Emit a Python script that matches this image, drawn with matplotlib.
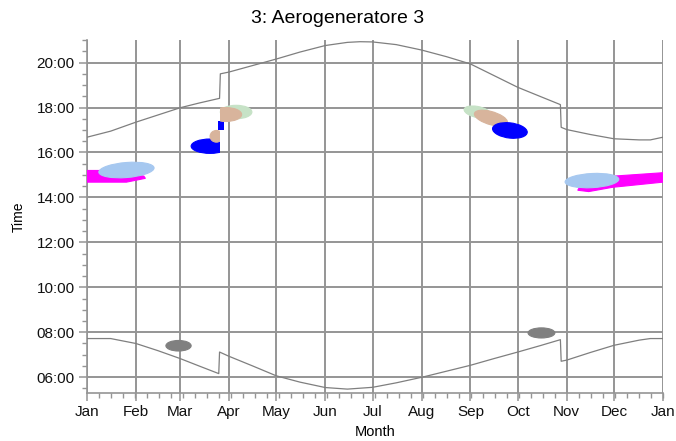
import matplotlib
matplotlib.use("Agg")
import matplotlib.pyplot as plt
from matplotlib.patches import Ellipse, Polygon, Rectangle
from matplotlib.ticker import FixedLocator, MultipleLocator, FuncFormatter

plt.rcParams['font.family'] = ['Liberation Sans', 'DejaVu Sans']

# month starts (day of year) and their labels
month_days = [0, 31, 59, 90, 120, 151, 181, 212, 243, 273, 304, 334, 365]
month_names = ['Jan', 'Feb', 'Mar', 'Apr', 'May', 'Jun', 'Jul', 'Aug',
               'Sep', 'Oct', 'Nov', 'Dec', 'Jan']

# sunset / sunrise in local clock time (hours), with the DST jumps
sunset_days = [0, 15, 31, 45, 59, 71, 84, 84.5, 90, 105, 120, 135, 151, 165,
               173, 181, 196, 212, 228, 243, 258, 273, 287, 300, 300.5, 304,
               319, 334, 350, 357, 365]
sunset_hours = [16.68, 16.95, 17.35, 17.67, 17.99, 18.2, 18.41, 19.5, 19.58,
                19.87, 20.16, 20.47, 20.76, 20.9, 20.93, 20.92, 20.8, 20.56,
                20.26, 19.94, 19.42, 18.9, 18.5, 18.13, 17.12, 17.02, 16.8,
                16.61, 16.56, 16.56, 16.68]

sunrise_days = [0, 15, 31, 45, 59, 71, 83.5, 84, 90, 105, 120, 135, 151, 165,
                181, 196, 213, 228, 243, 258, 273, 287, 300, 300.5, 304, 319,
                334, 350, 357, 365]
sunrise_hours = [7.72, 7.72, 7.5, 7.18, 6.83, 6.5, 6.16, 7.12, 6.93, 6.5,
                 6.06, 5.78, 5.54, 5.47, 5.55, 5.75, 6.01, 6.27, 6.53, 6.83,
                 7.12, 7.4, 7.67, 6.71, 6.76, 7.1, 7.42, 7.65, 7.72, 7.72]

# flicker periods starting on 1 Jan / ending on 31 Dec
jan_days = [0, 10, 36, 37, 25, 0]
jan_hours = [15.2, 15.2, 14.95, 14.85, 14.68, 14.68]
dec_days = [311, 318, 333, 365, 365, 334, 315]
dec_hours = [14.32, 14.26, 14.45, 14.68, 15.1, 14.95, 14.8]

# short block right at the spring clock change
block_days = [83.3, 86.7]
block_hours = [16.98, 17.42]

# shadow flicker periods: centre day, centre hour, extent in days / hours
blob_day = [25, 58, 78, 82, 94.5, 88, 247.5, 256, 268, 288, 320]
blob_hour = [15.22, 7.4, 16.28, 16.72, 17.8, 17.69, 17.8, 17.53,
             16.98, 7.97, 14.75]
blob_width = [35, 16, 24, 8, 20, 20, 17, 21, 22, 17, 34]
blob_height = [0.67, 0.47, 0.64, 0.52, 0.6, 0.62, 0.5, 0.6,
               0.68, 0.45, 0.63]
blob_tilt = [0.3, 0, 0, 0, 0, 0, -0.7, -1.0, -0.4, 0, 0.2]
blob_from = [None, None, None, None, None, 84, None, None, None, None, None]
blob_to = [None, None, 84, 84, None, None, None, None, None, None, None]
blob_color = ['#a6c8f0', '#808080', '#0000ff', '#d8b49c', '#c6e2c6',
              '#d8b49c', '#c6e2c6', '#d8b49c', '#0000ff', '#808080',
              '#a6c8f0']

grid_col = '#959595'
line_col = '#7f7f7f'

fig = plt.figure(figsize=(6.76, 4.41), dpi=100)
ax = fig.add_axes([0.1287, 0.109, 0.852, 0.8])

ax.plot(sunset_days, sunset_hours, color=line_col, lw=0.9, zorder=3)
ax.plot(sunrise_days, sunrise_hours, color=line_col, lw=0.9, zorder=3)

for d, h in [(jan_days, jan_hours), (dec_days, dec_hours)]:
    ax.add_patch(Polygon(list(zip(d, h)), closed=True, facecolor='#ff00ff',
                         edgecolor='#ff00ff', lw=0.8, zorder=4))
ax.add_patch(Rectangle((block_days[0], block_hours[0]),
                       block_days[1] - block_days[0],
                       block_hours[1] - block_hours[0],
                       facecolor='#0000ff', edgecolor='none', zorder=4))

for i in range(len(blob_day)):
    e = Ellipse((blob_day[i], blob_hour[i]), blob_width[i], blob_height[i],
                angle=blob_tilt[i], facecolor=blob_color[i],
                edgecolor=blob_color[i], lw=0.8, zorder=5)
    ax.add_patch(e)
    lo = blob_from[i] if blob_from[i] is not None else -10
    hi = blob_to[i] if blob_to[i] is not None else 400
    clip = Rectangle((lo, 0), hi - lo, 24, transform=ax.transData)
    e.set_clip_path(clip)

ax.set_xlim(0, 365)
ax.set_ylim(5.3, 21.0)

ax.xaxis.set_major_locator(FixedLocator(month_days))
ax.set_xticklabels(month_names)
ax.xaxis.set_minor_locator(MultipleLocator(7.6))
ax.yaxis.set_major_locator(MultipleLocator(2))
ax.yaxis.set_minor_locator(MultipleLocator(0.5))
ax.yaxis.set_major_formatter(FuncFormatter(lambda v, p: '%02d:00' % int(round(v))))

ax.grid(True, which='major', color=grid_col, lw=1.4)
ax.set_axisbelow(True)
for s in ['top', 'right']:
    ax.spines[s].set_visible(False)
for s in ['left', 'bottom']:
    ax.spines[s].set_color(grid_col)
    ax.spines[s].set_linewidth(1.2)

ax.tick_params(which='major', length=6, width=1.1, color=grid_col,
               labelsize=11, labelcolor='#111111', pad=3)
ax.tick_params(which='minor', length=3.5, width=1.0, color=grid_col)

ax.set_xlabel('Month', fontsize=10.5, labelpad=4)
ax.set_ylabel('Time', fontsize=10, labelpad=8)
fig.suptitle('3: Aerogeneratore 3', fontsize=14, y=0.978)

fig.savefig('out.png', dpi=100)
